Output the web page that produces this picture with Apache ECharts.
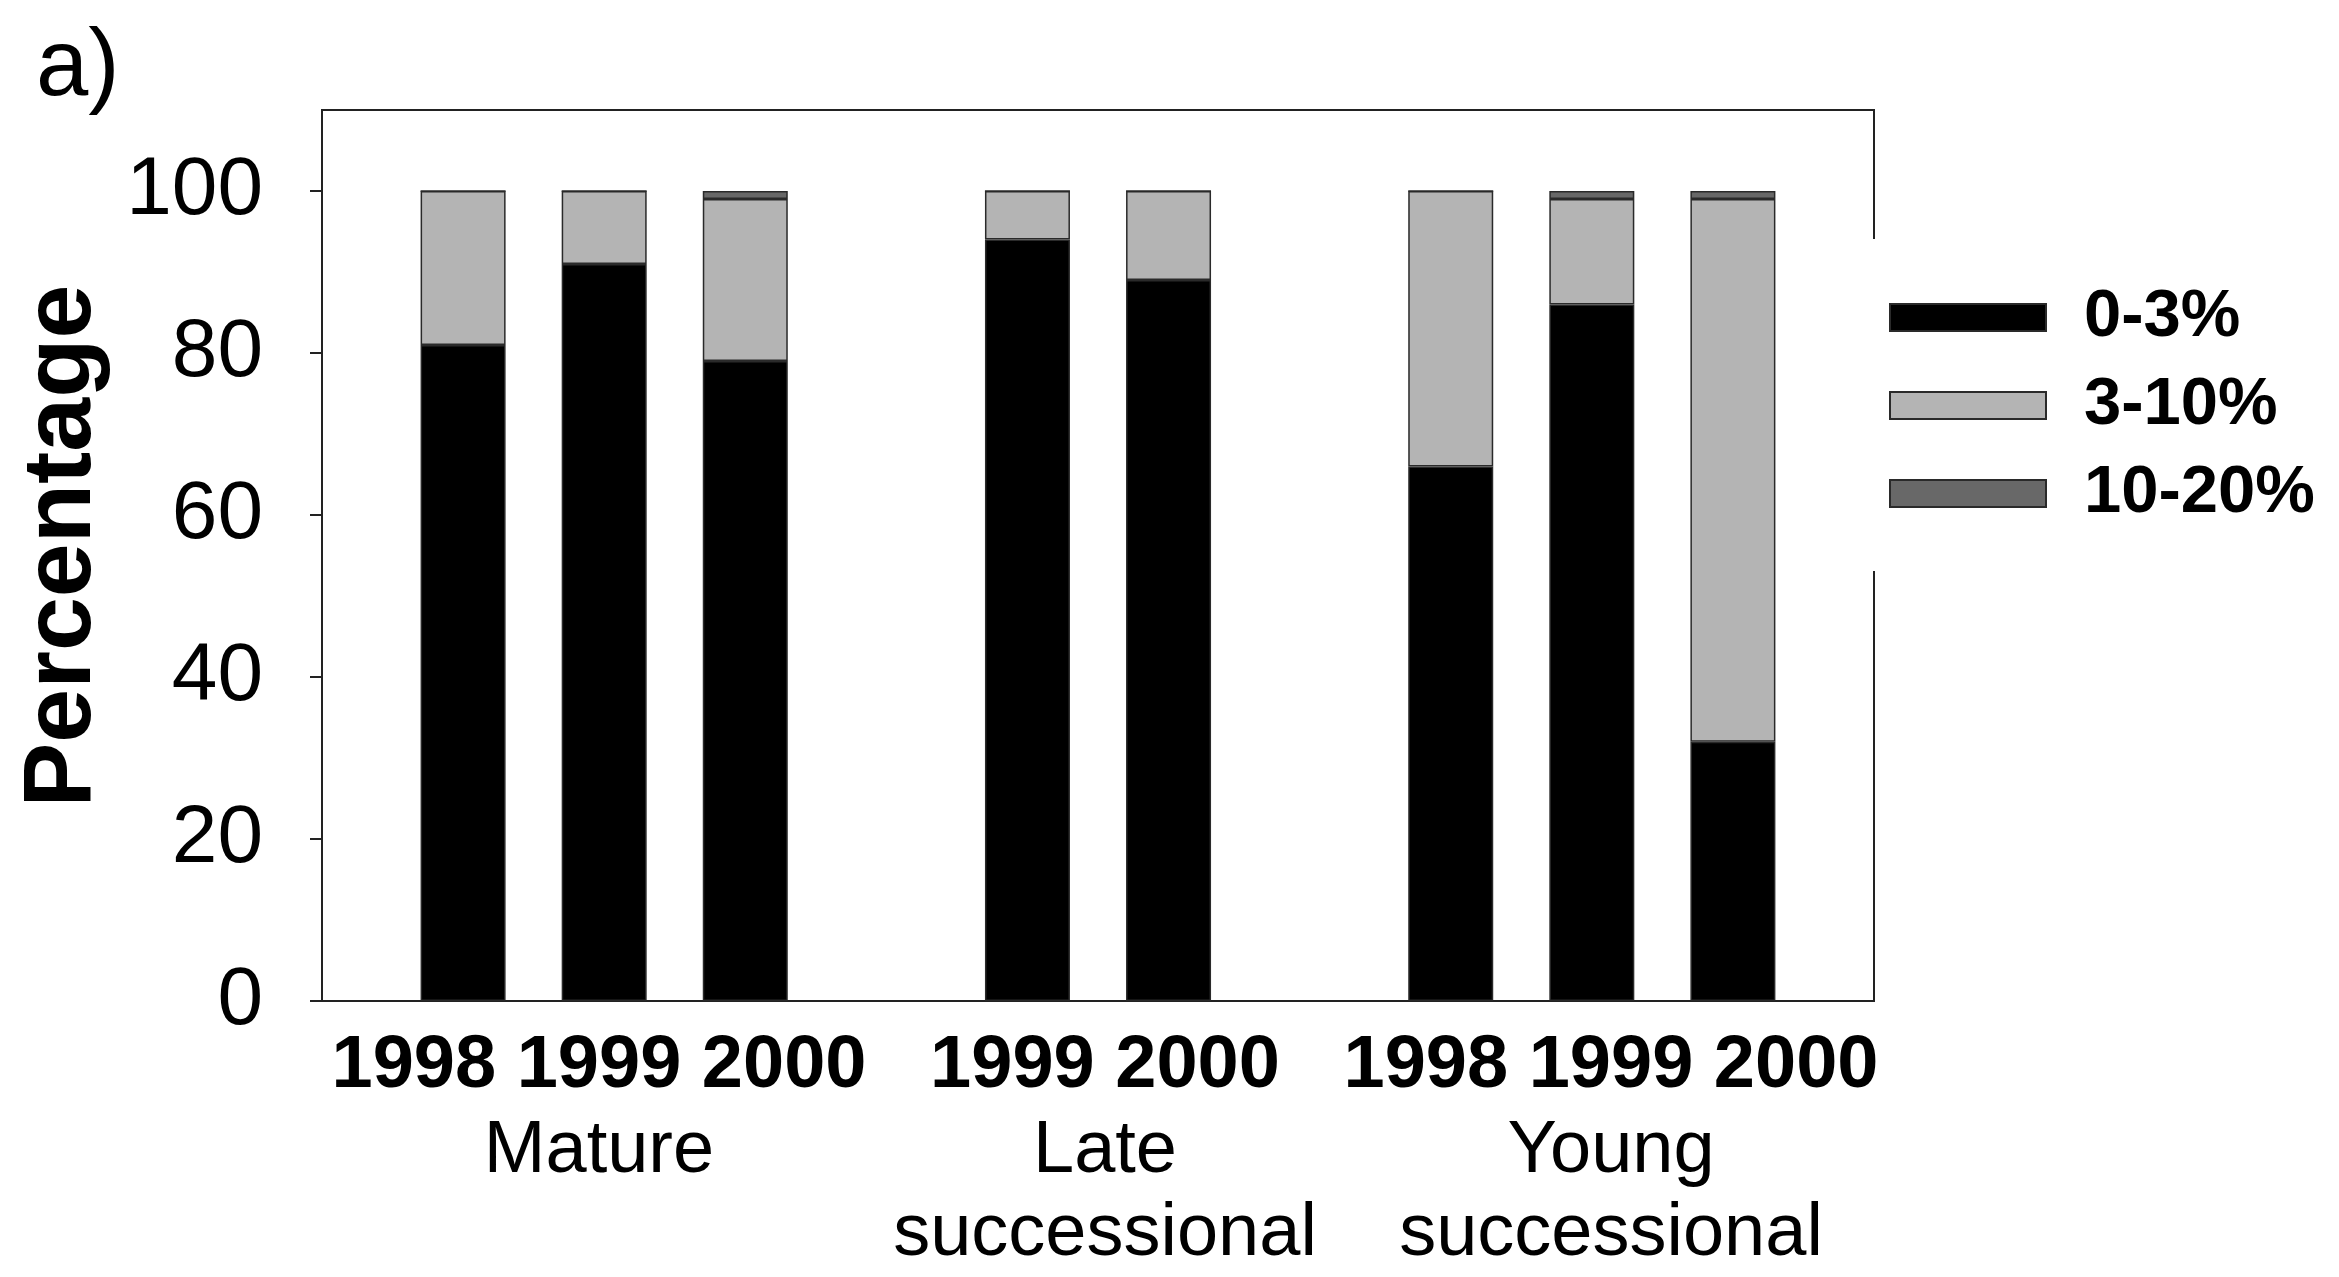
<!DOCTYPE html>
<html>
<head>
<meta charset="utf-8">
<script src="https://cdn.jsdelivr.net/npm/echarts@6/dist/echarts.min.js"></script>
<style>
  html, body { margin: 0; padding: 0; background: #fff; }
  #chart { width: 2339px; height: 1277px; }
</style>
</head>
<body>
<div id="chart"></div>
<script>
// Stand types and the survey years recorded for each
const groups = ['Mature', 'Late\nsuccessional', 'Young\nsuccessional'];
const groupYears = [['1998', '1999', '2000'], ['1999', '2000'], ['1998', '1999', '2000']];

// Percentage of plots per damage class, in the order of the years above
const share0to3 = [81, 91, 79, 94, 89, 66, 86, 32];
const share3to10 = [19, 9, 20, 6, 11, 34, 13, 67];
const share10to20 = [0, 0, 1, 0, 0, 0, 1, 1];

const classNames = ['0-3%', '3-10%', '10-20%'];
const yTicks = [0, 20, 40, 60, 80, 100];

const FONT = '"Liberation Sans", Arial, Helvetica, sans-serif';

// Lay the bars out on evenly spaced slots with an empty slot around each stand
function toSlots(values) {
  const out = [null];
  let k = 0;
  groupYears.forEach(years => {
    years.forEach(() => out.push(values[k++]));
    out.push(null);
  });
  return out;
}
const slotLabels = toSlots(groupYears.flat()).map(v => v === null ? '' : v);

const chart = echarts.init(document.getElementById('chart'), null, { renderer: 'canvas' });

const barStyle = (color) => ({ color: color, borderColor: '#2a2a2a', borderWidth: 1.5 });

chart.setOption({
  backgroundColor: '#fff',
  animation: false,
  title: {
    text: 'a)',
    left: 36,
    top: 22,
    padding: 0,
    textStyle: { fontFamily: FONT, fontSize: 94, fontWeight: 'normal', color: '#000' }
  },
  legend: {
    orient: 'vertical',
    left: 1866,
    top: 239,
    padding: [45, 20, 44, 23],
    backgroundColor: '#fff',
    itemWidth: 156,
    itemHeight: 27,
    itemGap: 21,
    icon: 'rect',
    data: classNames,
    textStyle: {
      fontFamily: FONT, fontSize: 67, fontWeight: 'bold', color: '#000',
      padding: [0, 0, 0, 33]
    }
  },
  grid: [
    { left: 322, right: 465, top: 110, bottom: 276, show: true, borderColor: '#222', borderWidth: 2 },
    { left: 346, right: 475, top: 110, bottom: 276, show: false }
  ],
  xAxis: [
    {
      type: 'category',
      gridIndex: 0,
      data: slotLabels,
      boundaryGap: false,
      position: 'bottom',
      axisLine: { show: true, lineStyle: { color: '#222', width: 2 } },
      axisTick: { show: false },
      axisLabel: { show: false },
      splitLine: { show: false }
    },
    {
      type: 'category',
      gridIndex: 1,
      data: groups,
      position: 'bottom',
      axisLine: { show: false },
      axisTick: { show: false },
      splitLine: { show: false },
      axisLabel: {
        interval: 0,
        margin: 23,
        formatter: (value, index) =>
          '{yr|' + groupYears[index].join(' ') + '}\n' +
          value.split('\n').map(s => '{grp|' + s + '}').join('\n'),
        rich: {
          yr: { fontFamily: FONT, fontSize: 74, fontWeight: 'bold', color: '#000', lineHeight: 86 },
          grp: { fontFamily: FONT, fontSize: 74, fontWeight: 'normal', color: '#000', lineHeight: 83 }
        }
      }
    }
  ],
  yAxis: [
    {
      type: 'value',
      gridIndex: 0,
      min: 0,
      max: 110,
      interval: 20,
      name: 'Percentage',
      nameLocation: 'middle',
      nameGap: 210,
      nameTextStyle: {
        fontFamily: FONT, fontSize: 97, fontWeight: 'bold', color: '#000',
        padding: [0, 0, 0, 19]
      },
      axisLine: { show: true, lineStyle: { color: '#222', width: 2 } },
      axisTick: { show: true, length: 12, customValues: yTicks, lineStyle: { color: '#222', width: 2 } },
      axisLabel: {
        customValues: yTicks,
        margin: 59,
        fontFamily: FONT, fontSize: 82, color: '#000'
      },
      splitLine: { show: false }
    },
    { type: 'value', gridIndex: 1, show: false, min: 0, max: 110 }
  ],
  series: [
    {
      name: classNames[0], type: 'bar', stack: 'total', barWidth: 85,
      xAxisIndex: 0, yAxisIndex: 0,
      itemStyle: barStyle('#000000'),
      data: toSlots(share0to3)
    },
    {
      name: classNames[1], type: 'bar', stack: 'total', barWidth: 85,
      xAxisIndex: 0, yAxisIndex: 0,
      itemStyle: barStyle('#b4b4b4'),
      data: toSlots(share3to10)
    },
    {
      name: classNames[2], type: 'bar', stack: 'total', barWidth: 85,
      xAxisIndex: 0, yAxisIndex: 0,
      itemStyle: barStyle('#686868'),
      data: toSlots(share10to20)
    }
  ]
});
</script>
</body>
</html>
